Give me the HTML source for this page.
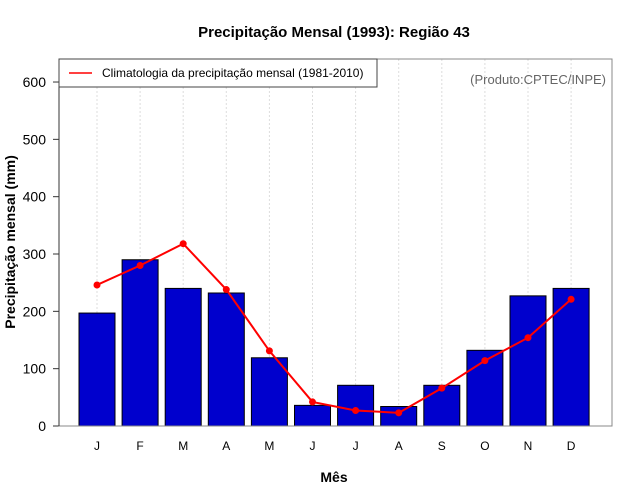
<!DOCTYPE html>
<html><head><meta charset="utf-8"><style>
body{margin:0;background:#fff}
svg{display:block;font-family:"Liberation Sans",sans-serif}
</style></head><body>
<svg id="c" width="640" height="500" xmlns="http://www.w3.org/2000/svg">
<text x="334" y="37" text-anchor="middle" font-size="15" font-weight="bold">Precipitação Mensal (1993): Região 43</text>
<text x="334" y="482" text-anchor="middle" font-size="14" font-weight="bold">Mês</text>
<text transform="translate(15,242) rotate(-90)" text-anchor="middle" font-size="14" font-weight="bold">Precipitação mensal (mm)</text>
<g id="grid"></g><g id="bars"></g><g id="line"></g><g id="axes"></g>
<rect x="59" y="59" width="553" height="367" fill="none" stroke="#888"/>
<line x1="59" y1="59" x2="59" y2="426" stroke="#333"/>
<g>
<rect x="59" y="59" width="318" height="28" fill="#fff" stroke="#444"/>
<line x1="69" y1="73" x2="92" y2="73" stroke="red" stroke-width="1.5"/>
<text x="102" y="77" font-size="12">Climatologia da precipitação mensal (1981-2010)</text>
</g>
<text x="606" y="84" text-anchor="end" font-size="13" fill="#666">(Produto:CPTEC/INPE)</text>
<script>
const months=["J","F","M","A","M","J","J","A","S","O","N","D"];
const observed=[197,290,240,232,119,36,71,34,71,132,227,240];
const climatology=[246,280,318,238,131,42,27,23,66,114,154,221];
const yTicks=[0,100,200,300,400,500,600];
const NS="http://www.w3.org/2000/svg";
const X=i=>97+i*43.1, Y=v=>426-v*0.5733;
function mk(t,a,p){const e=document.createElementNS(NS,t);for(const k in a)e.setAttribute(k,a[k]);p.appendChild(e);return e;}
const g=document.getElementById('grid'),b=document.getElementById('bars'),l=document.getElementById('line'),ax=document.getElementById('axes');
months.forEach((m,i)=>{
 const gl=mk('line',{x1:X(i),x2:X(i),y1:59,y2:426,stroke:'#ddd','stroke-dasharray':'2,2'},g);
 
 
 const r=mk('rect',{x:X(i)-18,y:Y(observed[i]),width:36,height:426-Y(observed[i]),fill:'#0000cd',stroke:'#000','stroke-width':1},b);
 
 
 const t=mk('text',{x:X(i),y:450,'text-anchor':'middle','font-size':12},ax);t.textContent=m;
 
 
});
const pl=mk('polyline',{points:climatology.map((v,i)=>X(i)+','+Y(v)).join(' '),fill:'none',stroke:'red','stroke-width':2},l);


climatology.forEach((v,i)=>{
 const c=mk('circle',{cx:X(i),cy:Y(v),r:3.5,fill:'red'},l);
 
 
});
yTicks.forEach(v=>{
 const tl=mk('line',{x1:53,x2:59,y1:Y(v),y2:Y(v),stroke:'#333'},ax);
 
 
 const t=mk('text',{x:46,y:Y(v)+5,'text-anchor':'end','font-size':14},ax);t.textContent=v;
 
 
});
</script>
</svg>
</body></html>
